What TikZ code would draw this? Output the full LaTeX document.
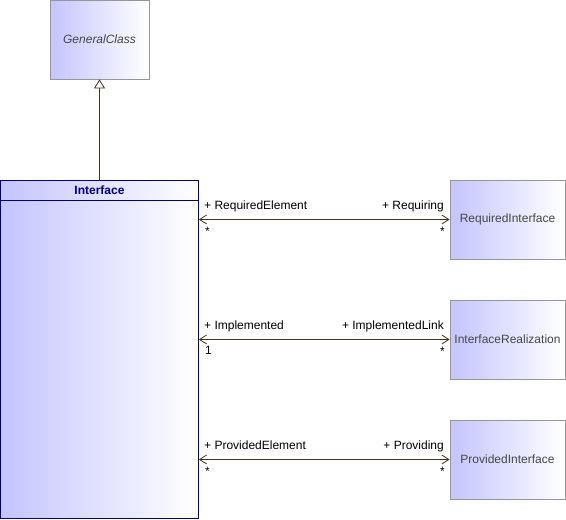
\documentclass[tikz,border=0pt]{standalone}
\usepackage{fontspec}
\setmainfont{Liberation Sans}
\usetikzlibrary{arrows.meta}
\definecolor{gradL}{RGB}{196,196,255}
\definecolor{boxgray}{RGB}{150,150,150}
\definecolor{navy}{RGB}{0,0,128}
\definecolor{linkc}{RGB}{66,50,30}
\definecolor{txtgray}{RGB}{70,70,70}
\tikzset{
  classbox/.style={draw=boxgray, line width=0.8pt, left color=gradL, right color=white, inner sep=0pt, font=\fontsize{12}{14}\selectfont, text=txtgray},
  ifacebox/.style={draw=navy, line width=0.8pt, left color=gradL, right color=white, inner sep=0pt},
  assoc/.style={draw=linkc, line width=0.8pt, {Straight Barb[length=7pt,width=9pt,line width=0.8pt]}-{Straight Barb[length=7pt,width=9pt,line width=0.8pt]}},
  gen/.style={draw=linkc, line width=0.8pt, -{Triangle[open,length=9pt,width=11pt,fill=white,line width=0.8pt]}},
  lbl/.style={inner sep=0pt, font=\fontsize{12}{14}\selectfont, text=black},
}
\begin{document}
\begin{tikzpicture}[x=1pt,y=-1pt]
\useasboundingbox (0,0) rectangle (566,520);
\node[classbox, minimum width=99pt, minimum height=79pt, font=\fontsize{12}{14}\selectfont\itshape] (gc) at (99.5,39.5) {GeneralClass};
\node[ifacebox, minimum width=198pt, minimum height=338pt] (iface) at (99.5,349.5) {};
\node[inner sep=0pt, font=\fontsize{12}{14}\selectfont\bfseries, text=navy, anchor=base] (ititle) at (99.5,194) {Interface};
\draw[navy, line width=0.8pt] (0.5,200.5) coordinate (hl) -- (hl -| iface.east);
\node[classbox, minimum width=115pt, minimum height=79pt] (req) at (507.5,219.5) {RequiredInterface};
\node[classbox, minimum width=115pt, minimum height=79pt] (real) at (507.5,339.5) {InterfaceRealization};
\node[classbox, minimum width=115pt, minimum height=79pt] (prov) at (507.5,459.5) {ProvidedInterface};
\draw[gen] (iface.north -| gc.south) -- (gc.south);
\draw[assoc] (req.west -| iface.east) -- (req.west);
\draw[assoc] (real.west -| iface.east) -- (real.west);
\draw[assoc] (prov.west -| iface.east) -- (prov.west);
% labels
\node[lbl, anchor=base west] (l1a) at (204,209) {+ RequiredElement};
\node[lbl, anchor=base east] (l1b) at (444,209) {+ Requiring};
\node[lbl, anchor=base west] (l1c) at (205,235) {*};
\node[lbl, anchor=base east] (l1d) at (445,235) {*};
\node[lbl, anchor=base west] (l2a) at (204,329) {+ Implemented};
\node[lbl, anchor=base east] (l2b) at (444,329) {+ ImplementedLink};
\node[lbl, anchor=base west] (l2c) at (205,354) {1};
\node[lbl, anchor=base east] (l2d) at (445,355) {*};
\node[lbl, anchor=base west] (l3a) at (204,449) {+ ProvidedElement};
\node[lbl, anchor=base east] (l3b) at (444,449) {+ Providing};
\node[lbl, anchor=base west] (l3c) at (205,475) {*};
\node[lbl, anchor=base east] (l3d) at (445,475) {*};
\end{tikzpicture}
\end{document}
